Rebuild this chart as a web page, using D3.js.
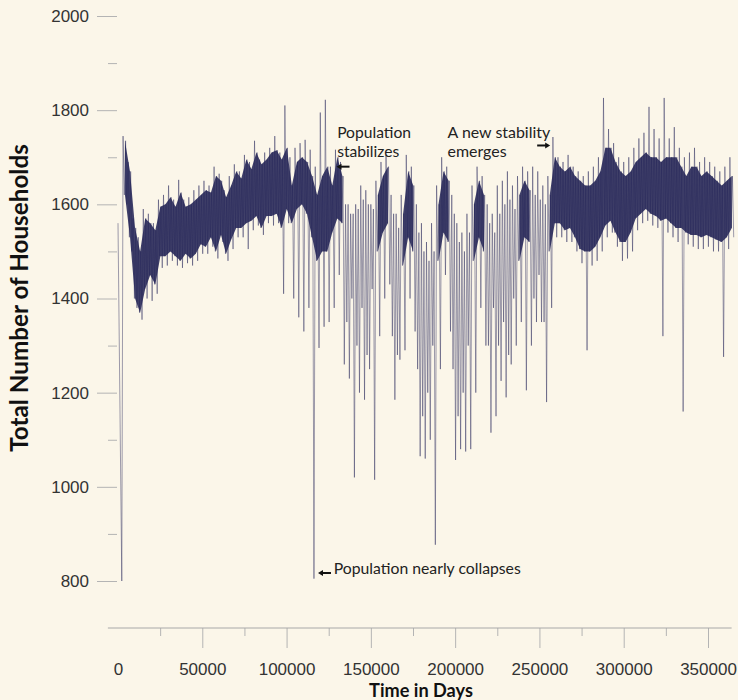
<!DOCTYPE html>
<html>
<head>
<meta charset="utf-8">
<script src="https://cdn.jsdelivr.net/npm/d3@7"></script>
<style>
  body { margin: 0; background: #fbf6e9; }
  svg { display: block; }
</style>
</head>
<body>
<svg id="chart" width="738" height="700"></svg>
<script>
var binDays = d3.range(0, 363001, 3000);

// spike tops / dense band top / dense band bottom / spike bottoms
var seriesMax = [1560,1745,1690,1570,1530,1590,1580,1560,1610,1620,1640,1610,1652,1610,1615,1630,1640,1650,1640,1680,
    1665,1630,1660,1685,1670,1705,1690,1735,1695,1710,1720,1745,1710,1810,1700,1720,1730,1737,1716,1680,
    1795,1822,1680,1716,1690,1600,1580,1600,1640,1630,1600,1650,1690,1705,1620,1580,1620,1705,1680,1600,
    1560,1520,1560,1640,1700,1680,1620,1560,1540,1580,1640,1680,1660,1600,1580,1640,1650,1670,1640,1660,
    1680,1670,1680,1670,1640,1660,1743,1700,1690,1705,1680,1670,1660,1670,1680,1700,1826,1760,1730,1700,
    1690,1700,1720,1740,1752,1807,1760,1740,1826,1740,1764,1720,1700,1710,1720,1690,1700,1690,1680,1670,
    1680,1700];
var bandHi = [null,1735,1670,1550,1500,1570,1560,1545,1595,1600,1615,1595,1625,1595,1600,1610,1620,1630,1625,1660,
    1650,1615,1640,1670,1655,1695,1675,1710,1685,1695,1710,1715,1695,1720,1640,1690,1700,1690,1660,1620,
    1660,1680,1640,1700,1660,1600,1580,1590,1610,1600,1590,1620,1660,1680,1580,1550,1580,1670,1640,1540,
    1500,1480,1500,1600,1670,1650,1580,1520,1500,1540,1600,1650,1620,1560,1540,1580,1600,1610,1590,1620,
    1650,1630,1620,1610,1600,1620,1700,1680,1670,1680,1660,1650,1640,1640,1650,1670,1720,1720,1690,1670,
    1660,1670,1690,1700,1710,1700,1700,1690,1700,1700,1700,1680,1660,1680,1680,1660,1670,1660,1650,1640,
    1650,1660];
var bandLo = [null,1620,1530,1400,1370,1420,1450,1430,1490,1490,1500,1490,1480,1495,1485,1495,1515,1510,1530,1500,
    1535,1495,1525,1550,1550,1560,1565,1575,1550,1575,1575,1580,1550,1590,1560,1590,1600,1580,1530,1480,
    1500,1500,1540,1570,1560,1350,1400,1300,1380,1280,1420,1500,1540,1560,1320,1280,1470,1530,1500,1250,
    1150,1200,1300,1480,1540,1520,1250,1150,1200,1300,1480,1530,1500,1300,1380,1300,1350,1280,1400,1480,
    1530,1520,1400,1450,1350,1500,1560,1560,1545,1550,1530,1505,1500,1500,1510,1530,1555,1565,1540,1520,
    1520,1540,1570,1580,1590,1580,1575,1565,1570,1560,1550,1550,1540,1535,1535,1530,1535,1530,1525,1520,
    1530,1550];
var seriesMin = [800,1600,1500,1380,1355,1400,1395,1410,1465,1470,1480,1470,1465,1475,1470,1480,1495,1495,1510,1485,
    1520,1480,1505,1530,1530,1505,1545,1555,1535,1560,1555,1560,1410,1560,1400,1360,1330,1380,805,1295,
    1340,1350,1380,1450,1260,1230,1020,1200,1185,1250,1015,1320,1400,1430,1185,1270,1290,1400,1330,1065,
    1060,1100,877,1250,1450,1330,1057,1080,1075,1080,1200,1380,1300,1115,1150,1225,1190,1260,1300,1350,
    1205,1300,1350,1350,1180,1380,1530,1530,1520,1520,1500,1475,1290,1470,1480,1500,1530,1540,1510,1480,
    1485,1500,1545,1560,1565,1555,1550,1320,1540,1530,1520,1160,1515,1510,1505,1505,1510,1500,1500,1276,
    1505,1530];

// stretches (in days) where the trace is only loose lines, no dark band
var sparseSpans = [[134000, 152000], [161000, 167000], [176000, 188000],
    [197000, 209000], [218000, 236000], [245000, 254000]];

var yTicks = d3.range(800, 2001, 100);
var xMajorTicks = [0, 50000, 100000, 150000, 200000, 250000, 300000, 350000];
var xMinorTicks = [25000, 75000, 125000, 175000, 225000, 275000, 325000];

var annotations = [
    {lines: ["Population", "stabilizes"], day: 130000, value: 1740, width: 74, arrowDay: 132000, arrowValue: 1680, dir: -1},
    {lines: ["A new stability", "emerges"], day: 195500, value: 1740, width: 103, arrowDay: 254000, arrowValue: 1725, dir: 1},
    {lines: ["Population nearly collapses"], day: 128000, value: 815, width: 187, arrowDay: 121000, arrowValue: 817, dir: -1}
];

var navy = "#1f2052";
var svg = d3.select("#chart");

var x = d3.scaleLinear().domain([0, 350000]).range([118, 708]);
var y = d3.scaleLinear().domain([800, 2000]).range([581, 16]);

function inSparse(day) {
    return sparseSpans.some(function(s) { return day >= s[0] && day <= s[1]; });
}

// points in time order so the single line draws the spikes
var points = [];
binDays.forEach(function(d, i) {
    points.push([d, seriesMax[i]]);
    if (bandLo[i] != null) points.push([d + 750, bandLo[i]]);
    if (bandHi[i] != null) points.push([d + 1500, bandHi[i]]);
    points.push([d + 2250, seriesMin[i]]);
});

var band = binDays.map(function(d, i) {
    return {day: d + 1125, hi: bandHi[i], lo: bandLo[i]};
});

svg.append("path")
    .datum(band)
    .attr("fill", navy)
    .attr("opacity", 0.85)
    .attr("d", d3.area()
        .defined(function(d) { return d.hi != null && !inSparse(d.day); })
        .x(function(d) { return x(d.day); })
        .y0(function(d) { return y(d.lo); })
        .y1(function(d) { return y(d.hi); }));

svg.append("path")
    .datum(points)
    .attr("fill", "none")
    .attr("stroke", "#26275a")
    .attr("stroke-width", 0.6)
    .attr("stroke-opacity", 0.75)
    .attr("d", d3.line()
        .x(function(d) { return x(d[0]); })
        .y(function(d) { return y(d[1]); }));

// y axis: majors every 200 with labels, minors in between
svg.append("g")
    .attr("transform", "translate(117,0)")
    .call(d3.axisLeft(y)
        .tickValues(yTicks.filter(function(v) { return v % 200 == 0; }))
        .tickSize(20)
        .tickPadding(8)
        .tickFormat(d3.format("d")));
svg.append("g")
    .attr("transform", "translate(117,0)")
    .call(d3.axisLeft(y)
        .tickValues(yTicks.filter(function(v) { return v % 200 != 0; }))
        .tickSize(9)
        .tickFormat(""));

// x axis
var xMajor = svg.append("g")
    .attr("transform", "translate(0,628)")
    .call(d3.axisBottom(x)
        .tickValues(xMajorTicks)
        .tickSize(20)
        .tickPadding(15)
        .tickFormat(d3.format("d")));
xMajor.selectAll(".tick line").filter(function(d) { return d == 0; }).remove();
svg.append("g")
    .attr("transform", "translate(0,628)")
    .call(d3.axisBottom(x)
        .tickValues(xMinorTicks)
        .tickSize(8)
        .tickFormat(""));

svg.selectAll(".domain").remove();
svg.append("line")
    .attr("x1", x(-6000)).attr("x2", x(364000))
    .attr("y1", 628).attr("y2", 628)
    .attr("stroke", "#a8a8a8");

svg.selectAll(".tick line").attr("stroke", "#b4b4b4");
svg.selectAll(".tick text")
    .attr("fill", "#333")
    .style("font-family", "'Liberation Sans', Arial, sans-serif")
    .style("font-size", "17px");

// fit a text element to a width measured on the picture
function fitWidth(sel, w) {
    var len = sel.node().getBBox().width;
    var fs = parseFloat(sel.style("font-size"));
    sel.style("font-size", (fs * w / len) + "px");
}

var yTitle = svg.append("text")
    .attr("transform", "translate(28,298) rotate(-90)")
    .attr("text-anchor", "middle")
    .attr("fill", "#111")
    .style("font-family", "Lato, 'Open Sans', sans-serif")
    .style("font-weight", "bold")
    .style("font-size", "18px")
    .text("Total Number of Households");
fitWidth(yTitle, 308);

var xTitle = svg.append("text")
    .attr("x", 421).attr("y", 697)
    .attr("text-anchor", "middle")
    .attr("fill", "#111")
    .style("font-family", "Lato, 'Open Sans', sans-serif")
    .style("font-weight", "bold")
    .style("font-size", "18px")
    .text("Time in Days");
fitWidth(xTitle, 104);

annotations.forEach(function(a) {
    var t = svg.append("text")
        .attr("x", x(a.day))
        .attr("y", y(a.value))
        .attr("fill", "#222")
        .style("font-family", "Lato, 'Open Sans', sans-serif")
        .style("font-size", "15px");
    a.lines.forEach(function(line, i) {
        t.append("tspan")
            .attr("x", x(a.day))
            .attr("dy", i == 0 ? 0 : 19)
            .text(line);
    });
    fitWidth(t, a.width);
    // little arrow: short shaft with a head on the pointing side
    var ax = x(a.arrowDay), ay = y(a.arrowValue);
    svg.append("line")
        .attr("x1", ax).attr("x2", ax + 9 * -a.dir)
        .attr("y1", ay).attr("y2", ay)
        .attr("stroke", "#111").attr("stroke-width", 2);
    svg.append("path")
        .attr("d", "M" + (ax + 4 * a.dir) + "," + ay + "L" + (ax - 1 * a.dir) + "," + (ay - 3) + "L" + (ax - 1 * a.dir) + "," + (ay + 3) + "Z")
        .attr("fill", "#111");
});
</script>
</body>
</html>
